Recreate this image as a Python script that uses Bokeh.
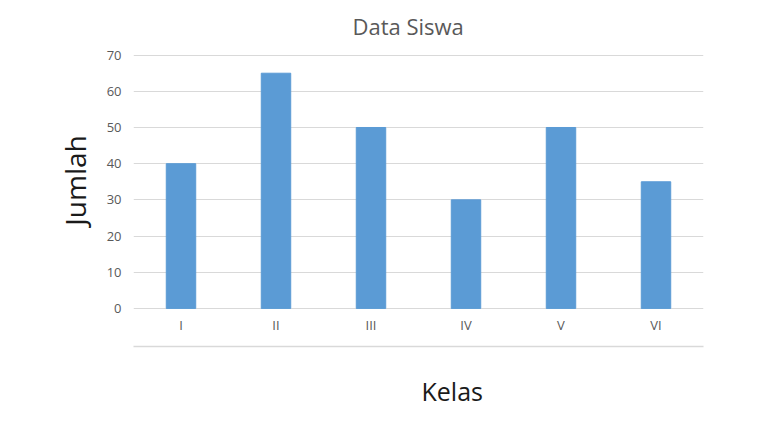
from bokeh.plotting import figure
from bokeh.models import FactorRange, Range1d, FixedTicker, CategoricalAxis, Title
from bokeh.embed import file_html
from bokeh.resources import INLINE

categories = ["I", "II", "III", "IV", "V", "VI"]
values = [40, 65, 50, 30, 50, 35]
y_ticks = [0, 10, 20, 30, 40, 50, 60, 70]

FONT = "Open Sans"
GREY = "#595959"

p = figure(
    x_range=FactorRange(*categories),
    y_range=Range1d(-0.3, 71),
    width=762, height=435,
    min_border_left=133, min_border_right=59,
    min_border_top=51, min_border_bottom=126,
    output_backend="svg", toolbar_location=None,
)
p.outline_line_color = None
p.background_fill_color = "white"
p.border_fill_color = "white"

p.title.text = "Data Siswa"
p.title.align = "left"
p.title.offset = 219
p.title.standoff = 17
p.title.vertical_align = "top"
p.title.text_font = FONT
p.title.text_font_size = "22px"
p.title.text_font_style = "normal"
p.title.text_color = GREY

p.vbar(x=categories, top=values, width=0.31, color="#5B9BD5")

p.xgrid.grid_line_color = None
p.ygrid.ticker = FixedTicker(ticks=y_ticks)
p.ygrid.grid_line_color = "#d9d9d9"
p.ygrid.grid_line_width = 1

ya = p.yaxis[0]
ya.ticker = FixedTicker(ticks=y_ticks)
ya.axis_line_color = None
ya.major_tick_line_color = None
ya.minor_tick_line_color = None
ya.major_tick_out = 0
ya.major_tick_in = 0
ya.major_label_standoff = 12
ya.major_label_text_font = FONT
ya.major_label_text_font_size = "13px"
ya.major_label_text_color = GREY
ya.axis_label = "Jumlah"
ya.axis_label_standoff = 10
ya.axis_label_text_font = FONT
ya.axis_label_text_font_size = "28px"
ya.axis_label_text_font_style = "normal"
ya.axis_label_text_color = "#1a1a1a"

xa = p.xaxis[0]
xa.axis_line_color = None
xa.major_tick_line_color = None
xa.major_tick_out = 0
xa.major_tick_in = 0
xa.major_label_standoff = 6
xa.major_label_text_font = FONT
xa.major_label_text_font_size = "13px"
xa.major_label_text_color = GREY
xa.axis_label = " "
xa.axis_label_standoff = 1
xa.axis_label_text_font_size = "6px"

line_axis = CategoricalAxis()
line_axis.axis_line_color = "#d9d9d9"
line_axis.axis_line_width = 1.5
line_axis.major_tick_line_color = None
line_axis.major_tick_out = 0
line_axis.major_tick_in = 0
line_axis.major_label_standoff = 0
line_axis.major_label_text_font_size = "0px"
line_axis.major_label_text_color = None
p.add_layout(line_axis, "below")

kelas = Title(text="Kelas", align="left", offset=288, standoff=50,
              text_font=FONT, text_font_size="25px", text_font_style="normal",
              text_color="#1a1a1a")
p.add_layout(kelas, "below")

open("out.html", "w").write(file_html(p, INLINE))
